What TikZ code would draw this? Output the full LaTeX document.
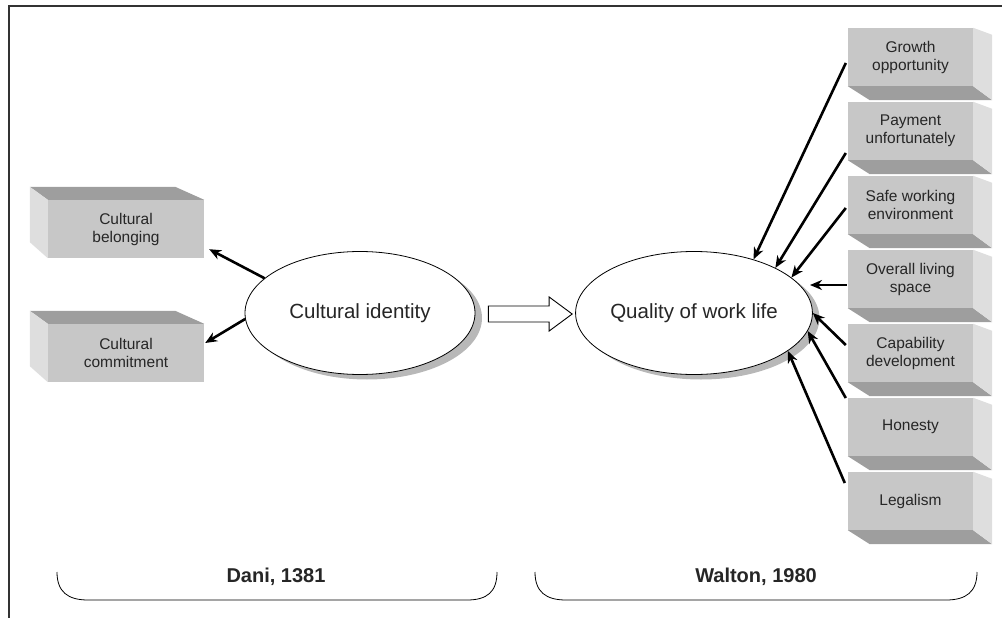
\documentclass[tikz,border=0pt]{standalone}
\usepackage{fontspec}
\setmainfont{Liberation Sans}
\usetikzlibrary{arrows.meta,calc,shadows,shapes.geometric}
\definecolor{facefront}{gray}{0.78}
\definecolor{facedark}{gray}{0.62}
\definecolor{facelight}{gray}{0.87}
\newcommand{\leftfaces}[1]{%
  \fill[facedark] (#1.north west) -- ++(-18,-13) -- ($(#1.north east)+(-29,-13)$)
    -- (#1.north east) -- cycle;
  \fill[facelight] (#1.north west) -- ++(-18,-13) -- ($(#1.south west)+(-18,-16)$)
    -- (#1.south west) -- cycle;}
\newcommand{\rightfaces}[1]{%
  \fill[facedark] (#1.south west) -- ++(22,14) -- ($(#1.south east)+(19,14)$)
    -- (#1.south east) -- cycle;
  \fill[facelight] (#1.north east) -- ++(19,7) -- ($(#1.south east)+(19,14)$)
    -- (#1.south east) -- cycle;}

\begin{document}
\begin{tikzpicture}[x=1pt,y=-1pt,>={Stealth[length=12pt,width=10pt]},
  font=\fontsize{15.5}{18}\selectfont,text=black!85,
  slab/.style={fill=facefront,align=center,inner sep=2pt,minimum height=58pt},
  lslab/.style={slab,minimum width=156pt},
  rslab/.style={slab,minimum width=125pt},
  oval/.style={ellipse,draw,fill=white,line width=0.8pt,minimum width=230pt,
               minimum height=123pt,inner sep=0pt,
               font=\fontsize{20.5}{24}\selectfont,
               drop shadow={shadow xshift=7pt,shadow yshift=-5pt,
                            fill=black!28,opacity=1}},
  link/.style={->,line width=2.6pt},
  source/.style={font=\fontsize{20}{24}\selectfont\bfseries}]
\useasboundingbox (0,0) rectangle (1002,618);
\draw[line width=1.6pt,black!80] (9,618) -- (9,6) -- (1002,6);
\node[oval] (ci) at (360,313) {Cultural identity};
\node[oval] (qwl) at (694,313) {Quality of work life};
\node[lslab] (belong) at (126,229) {Cultural\\belonging};
\node[lslab] (commit) at (126,353) {Cultural\\commitment};
\leftfaces{belong}
\leftfaces{commit}
\node[rslab] (growth) at (910.5,57) {Growth\\opportunity};
\node[rslab] (pay) at (910.5,131) {Payment\\unfortunately};
\node[rslab] (safe) at (910.5,205) {Safe working\\environment};
\node[rslab] (living) at (910.5,279) {Overall living\\space};
\node[rslab] (capab) at (910.5,353) {Capability\\development};
\node[rslab] (honest) at (910.5,427) {Honesty};
\node[rslab] (legal) at (910.5,501) {Legalism};
\rightfaces{growth}
\rightfaces{pay}
\rightfaces{safe}
\rightfaces{living}
\rightfaces{capab}
\rightfaces{honest}
\rightfaces{legal}
\draw[link] (ci.160) -- ($(belong.south east)+(5,-9)$);
\draw[link] (ci.183) -- ($(commit.east)+(1,-10)$);
\coordinate (hs) at ($(ci.east)+(13,1)$);
\coordinate (ht) at ($(qwl.west)+(-3,1)$);
\draw[fill=white,line width=0.9pt] ($(hs)+(0,-8)$) -- ($(ht)+(-23,-8)$)
  -- ($(ht)+(-23,-17)$) -- (ht) -- ($(ht)+(-23,17)$) -- ($(ht)+(-23,8)$)
  -- ($(hs)+(0,8)$) -- cycle;
\draw[link] ($(growth.west)+(-2,6)$) -- (qwl.42);
\draw[link] ($(pay.west)+(-2,22)$) -- (qwl.29);
\draw[link] ($(safe.west)+(-2,3)$) -- (qwl.20);
\draw[link] ($(living.west)+(-1,6)$) -- ($(qwl.center)+(116,-28)$);
\draw[link] ($(capab.west)+(-2,-8)$) -- (qwl.0);
\draw[link] ($(honest.west)+(-2,-29)$) -- (qwl.-9);
\draw[link] ($(legal.west)+(-3,-18)$) -- (qwl.-22);
\draw[line width=0.8pt] (57,572) .. controls (57,592) and (68,600) .. (88,600)
  -- (467,600) .. controls (487,600) and (497,592) .. (497,572);
\draw[line width=0.8pt] (535,572) .. controls (535,592) and (546,600) .. (566,600)
  -- (946,600) .. controls (966,600) and (977,592) .. (977,572);
\node[source] (dani) at (276,577) {Dani, 1381};
\node[source] (walton) at (756,577) {Walton, 1980};
\end{tikzpicture}
\end{document}
